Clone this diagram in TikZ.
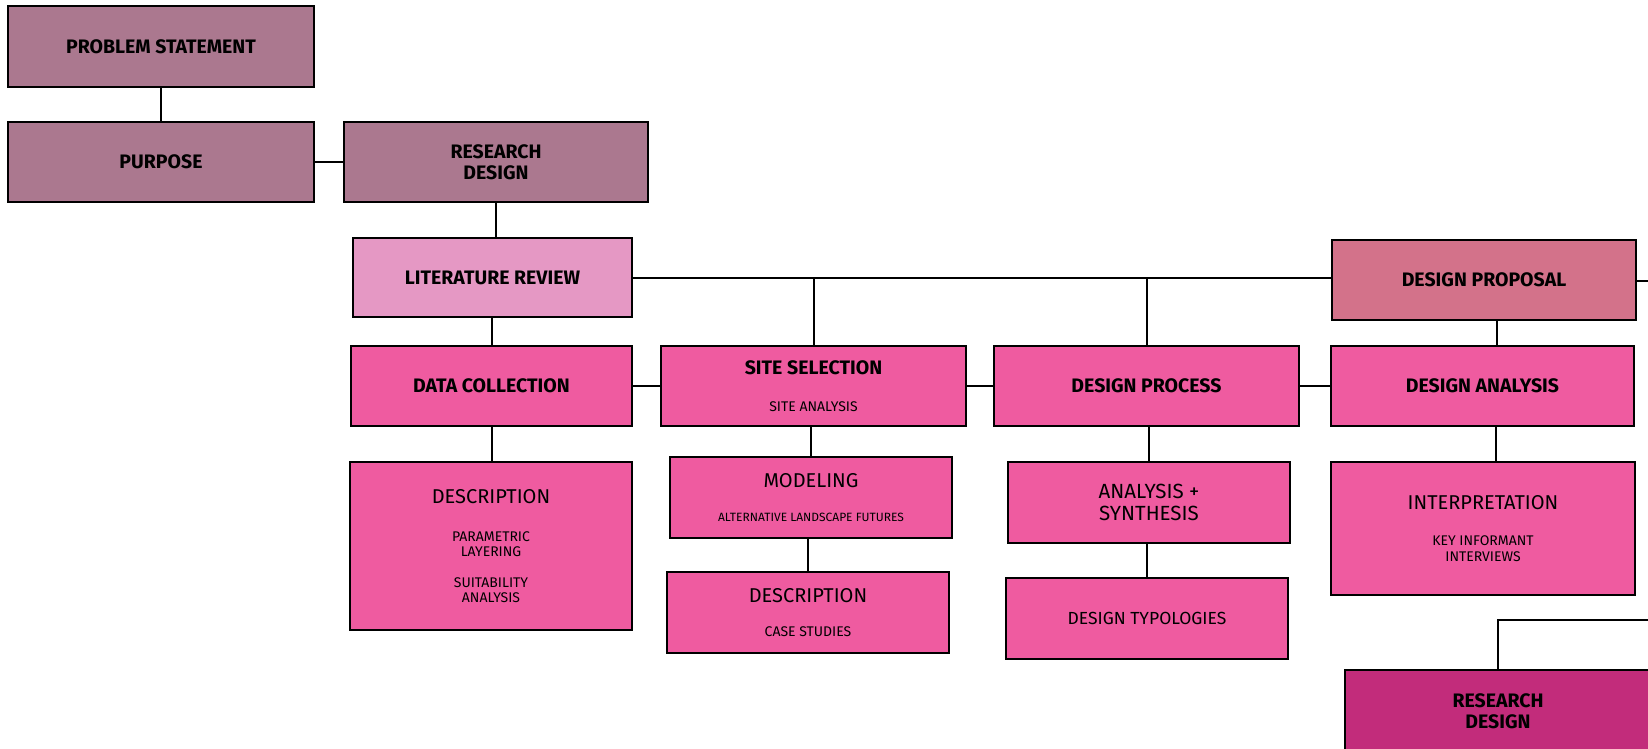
\documentclass[tikz,border=0pt]{standalone}
\usepackage{fontspec}
\setmainfont{Fira Sans}
\definecolor{colorOne}{HTML}{AB788F}
\definecolor{colorTwo}{HTML}{E598C4}
\definecolor{colorThree}{HTML}{D3728A}
\definecolor{colorFour}{HTML}{EF5BA0}
\definecolor{colorFive}{HTML}{C22C7B}
\newcommand{\boxhead}{\fontsize{20}{22}\selectfont}
\newcommand{\boxtitle}{\bfseries\fontsize{19.5}{21}\selectfont}
\tikzset{
  stagebox/.style={
    draw=black,line width=1.7pt,align=center,inner sep=0pt,anchor=center,
    font=\bfseries\fontsize{19.5}{21.5}\selectfont,
  },
  notebox/.style={stagebox,font=\fontsize{14}{15}\selectfont},
  link/.style={draw=black,line width=2pt},
}

\begin{document}
\begin{tikzpicture}[x=1pt,y=1pt]
   \clip (0,0) rectangle (1648,-749);

   % NODES
   \node[stagebox,fill=colorOne,minimum width=306,minimum height=81] (ps) at (161,-46.5) {PROBLEM STATEMENT};
   \node[stagebox,fill=colorOne,minimum width=306,minimum height=80] (pu) at (161,-162) {PURPOSE};
   \node[stagebox,fill=colorOne,minimum width=304,minimum height=80] (rd) at (496,-162) {RESEARCH\\DESIGN};
   \node[stagebox,fill=colorTwo,minimum width=279,minimum height=79] (lr) at (492.5,-277.5) {LITERATURE REVIEW};
   \node[stagebox,fill=colorThree,minimum width=304,minimum height=80] (dpr) at (1484,-280) {DESIGN PROPOSAL};

   % NODES
   \node[stagebox,fill=colorFour,minimum width=281,minimum height=80] (dc) at (491.5,-386) {DATA COLLECTION};
   \node[notebox,fill=colorFour,minimum width=305,minimum height=80] (ss) at (813.5,-386)
      {{\boxtitle SITE SELECTION}\\[22.5pt]SITE ANALYSIS};
   \node[stagebox,fill=colorFour,minimum width=305,minimum height=80] (dp) at (1146.5,-386) {DESIGN PROCESS};
   \node[stagebox,fill=colorFour,minimum width=303,minimum height=80] (da) at (1482.5,-386) {DESIGN ANALYSIS};

   % NODES
   \node[notebox,fill=colorFour,minimum width=282,minimum height=168] (de1) at (491,-546)
      {{\boxhead DESCRIPTION}\\[22.5pt]PARAMETRIC\\LAYERING\\[16pt]SUITABILITY\\ANALYSIS};
   \node[notebox,fill=colorFour,minimum width=282,minimum height=81,font=\fontsize{12}{15}\selectfont] (mo) at (811,-497.5)
      {{\boxhead MODELING}\\[19.5pt]ALTERNATIVE LANDSCAPE FUTURES};
   \node[notebox,fill=colorFour,minimum width=282,minimum height=81] (de2) at (808,-612.5)
      {{\boxhead DESCRIPTION}\\[19pt]CASE STUDIES};
   \node[notebox,fill=colorFour,minimum width=282,minimum height=81,font=\fontsize{20.5}{22}\selectfont] (as) at (1149,-502.5)
      {ANALYSIS +\\SYNTHESIS};
   \node[notebox,fill=colorFour,minimum width=282,minimum height=81,font=\fontsize{17.5}{21}\selectfont] (dt) at (1147,-618.5)
      {DESIGN TYPOLOGIES};
   \node[notebox,fill=colorFour,minimum width=304,minimum height=133,font=\fontsize{14}{16}\selectfont] (ip) at (1483,-528.5)
      {{\fontsize{20}{23}\selectfont INTERPRETATION}\\[20.5pt]KEY INFORMANT\\INTERVIEWS};
   \node[stagebox,fill=colorFive,minimum width=306,minimum height=82] (rdb) at (1498,-711) {RESEARCH\\DESIGN};

   % FREE ENDS
   \coordinate (eR) at (1660,-281);
   \coordinate (eB) at (1660,-620);

   % DRAW TREE
   \path[link] (ps)--(pu);
   \path[link] (pu)--(rd);
   \path[link] (rd.south)--(rd.south |- lr.north);
   \path[link] (lr.east)--(lr.east -| dpr.west);
   \path[link] (ss.north)--(ss.north |- lr.east);
   \path[link] (dp.north)--(dp.north |- lr.east);
   \path[link] (dpr.east |- eR)--(eR);
   \path[link] (dc.north |- lr.south)--(dc.north);
   \path[link] (dc)--(ss);
   \path[link] (ss)--(dp);
   \path[link] (dp)--(da);
   \path[link] ([xshift=13pt]dpr.south)--([xshift=13pt]dpr.south |- da.north);
   \path[link] (dc.south)--(dc.south |- de1.north);
   \path[link] (mo.north)--(mo.north |- ss.south);
   \path[link] (de2.north)--(de2.north |- mo.south);
   \path[link] (as.north)--(as.north |- dp.south);
   \path[link] (dt.north)--(dt.north |- as.south);
   \path[link] ([xshift=13pt]da.south)--([xshift=13pt]da.south |- ip.north);
   \path[link] (rdb.north)|-(eB);

\end{tikzpicture}
\end{document}
